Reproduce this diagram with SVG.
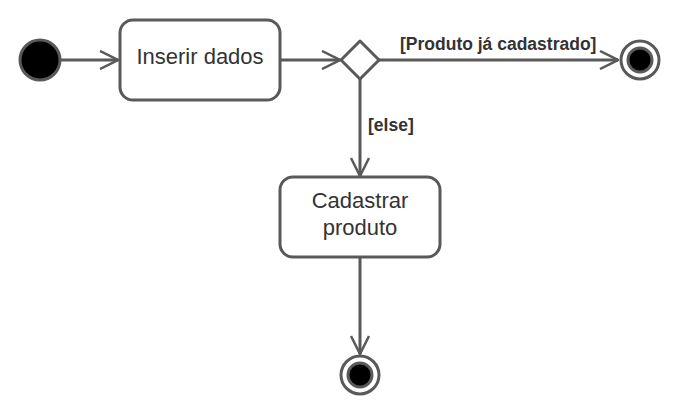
<svg xmlns="http://www.w3.org/2000/svg" width="680" height="417" viewBox="0 0 680 417">
<defs>
<marker id="arr" viewBox="0 0 20 20" refX="19" refY="10" markerWidth="20" markerHeight="20" markerUnits="userSpaceOnUse" orient="auto">
<path d="M1,1 L19,10 L1,19" fill="none" stroke="#595959" stroke-width="2.5"/>
</marker>
<style>
.n{fill:#fff;stroke:#595959;stroke-width:3}
.c{fill:none;stroke:#595959;stroke-width:3}
.t{font-family:"Liberation Sans",Arial,sans-serif;font-size:22px;fill:#333;text-anchor:middle}
.l{font-family:"Liberation Sans",Arial,sans-serif;font-size:17.5px;font-weight:bold;fill:#333}
</style>
</defs>
<rect width="680" height="417" fill="#fff"/>
<g id="connectors">
<line class="c" x1="61" y1="60" x2="118" y2="60" marker-end="url(#arr)"/>
<line class="c" x1="281" y1="60" x2="340" y2="60" marker-end="url(#arr)"/>
<line class="c" x1="379" y1="60" x2="618" y2="60" marker-end="url(#arr)"/>
<line class="c" x1="360" y1="79" x2="360" y2="176" marker-end="url(#arr)"/>
<line class="c" x1="360" y1="257" x2="360" y2="354" marker-end="url(#arr)"/>
<text class="l" x="400" y="50">[Produto já cadastrado]</text>
<text class="l" x="368" y="131">[else]</text>
</g>
<g id="start"><circle cx="40" cy="60" r="20" fill="#000" stroke="#595959" stroke-width="3"/></g>
<g id="inserir"><rect class="n" x="120" y="20" width="160" height="80" rx="13"/><text class="t" x="200" y="64">Inserir dados</text></g>
<g id="decision"><path class="n" d="M360,41 L379,60 L360,79 L341,60 Z" stroke-linejoin="round"/></g>
<g id="end1"><circle cx="640" cy="60" r="19" fill="#fff" stroke="#595959" stroke-width="3"/><circle cx="640" cy="60" r="12" fill="#000" stroke="#595959" stroke-width="3"/></g>
<g id="cadastrar"><rect class="n" x="280" y="177" width="160" height="80" rx="13"/><text class="t" x="360" y="208">Cadastrar</text><text class="t" x="360" y="235">produto</text></g>
<g id="end2"><circle cx="360" cy="375" r="19" fill="#fff" stroke="#595959" stroke-width="3"/><circle cx="360" cy="375" r="12" fill="#000" stroke="#595959" stroke-width="3"/></g>
</svg>
